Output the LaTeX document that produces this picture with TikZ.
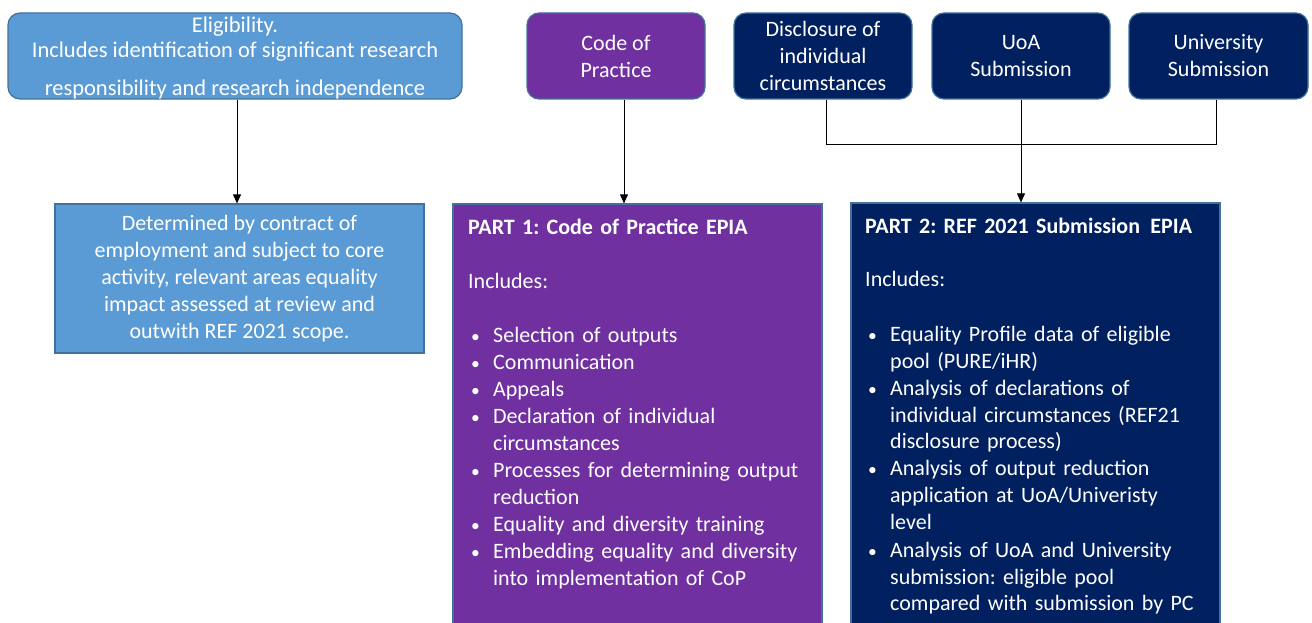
\documentclass[tikz,border=0pt]{standalone}
\usepackage{fontspec}
\setmainfont{Carlito}
\frenchspacing
\usetikzlibrary{arrows.meta}
\definecolor{lblue}{HTML}{5B9BD5}
\definecolor{lborder}{HTML}{41719C}
\definecolor{purp}{HTML}{7030A0}
\definecolor{navy}{HTML}{002060}
\newcommand\bul{\makebox[25pt][l]{\hspace{3pt}\scalebox{0.8}{\textbullet}}}
\newcommand\ind{\hspace*{25pt}}
\begin{document}
\begin{tikzpicture}[x=1pt,y=-1pt,
  box/.style={draw=lborder, line width=1.2pt, inner sep=0pt, text=white, align=center,
    font=\fontsize{22}{27}\selectfont},
  rbox/.style={box, rounded corners=12pt},
  btext/.style={anchor=base west, text width=355pt, inner sep=0pt, align=left, text=white,
    font=\fontsize{22}{27}\selectfont},
  arr/.style={-{Triangle[width=8pt,length=9pt]}, line width=0.9pt, draw=black},
  conn/.style={line width=0.9pt, draw=black}]
\useasboundingbox (0,0) rectangle (1312,623);
\clip (0,0) rectangle (1312,623);
% top row
\node[rbox, fill=lblue, minimum width=454pt, minimum height=86pt] (elig) at (235,56) {};
\node[inner sep=0pt, text=white, align=center, font=\fontsize{22.5}{25}\selectfont] (eligt) at (235,58.5)
  {Eligibility.\\ Includes identification of significant research\\[13pt] responsibility and research independence};
\node[rbox, fill=purp, minimum width=178pt, minimum height=86pt] (cop) at (616,56) {Code of\\ Practice};
\node[rbox, fill=navy, minimum width=178pt, minimum height=86pt] (disc) at (823,56) {Disclosure of\\ individual\\ circumstances};
\node[rbox, fill=navy, minimum width=178pt, minimum height=86pt] (uoa) at (1021,56) {UoA\\ Submission};
\node[rbox, fill=navy, minimum width=179pt, minimum height=86pt] (univ) at (1218.5,56) {University\\ Submission};
% lower row
\node[box, fill=lblue, minimum width=369pt, minimum height=149pt] (det) at (239.5,278.5)
  {Determined by contract of\\ employment and subject to core\\ activity, relevant areas equality\\ impact assessed at review and\\ outwith REF 2021 scope.};
\node[box, fill=purp, minimum width=369pt, minimum height=460pt] (p1) at (637.5,434) {};
\node[box, fill=navy, minimum width=369pt, minimum height=460pt] (p2) at (1035.5,433) {};
\node[btext] (p1t) at (468,234) {\textbf{PART 1: Code of Practice EPIA}\\ \mbox{}\\ Includes:\\ \mbox{}\\
  \bul Selection of outputs\\
  \bul Communication\\
  \bul Appeals\\
  \bul Declaration of individual\\ \ind circumstances\\
  \bul Processes for determining output\\ \ind reduction\\
  \bul Equality and diversity training\\
  \bul Embedding equality and diversity\\ \ind into implementation of CoP};
\node[btext] (p2t) at (865,233) {\textbf{PART 2: REF 2021 Submission\hspace{3pt} EPIA}\\ \mbox{}\\ Includes:\\ \mbox{}\\
  \bul Equality Profile data of eligible\\ \ind pool (PURE/iHR)\\
  \bul Analysis of declarations of\\ \ind individual circumstances (REF21\\ \ind disclosure process)\\
  \bul Analysis of output reduction\\ \ind application at UoA/Univeristy\\ \ind level\\
  \bul Analysis of UoA and University\\ \ind submission: eligible pool\\ \ind compared with submission by PC};
% connectors
\draw[arr] ([xshift=2pt]elig.south) -- ([xshift=2pt]elig.south |- det.north);
\draw[arr] ([xshift=8pt]cop.south) -- ([xshift=8pt]cop.south |- p1.north);
\coordinate (busL) at ([xshift=3pt]disc.south |- 0,144);
\coordinate (busR) at ([xshift=-2pt]univ.south |- 0,144);
\draw[conn] ([xshift=3pt]disc.south) -- (busL) -- (busR) -- ([xshift=-2pt]univ.south);
\draw[arr] (uoa.south) -- (uoa.south |- p2.north);
\end{tikzpicture}
\end{document}
